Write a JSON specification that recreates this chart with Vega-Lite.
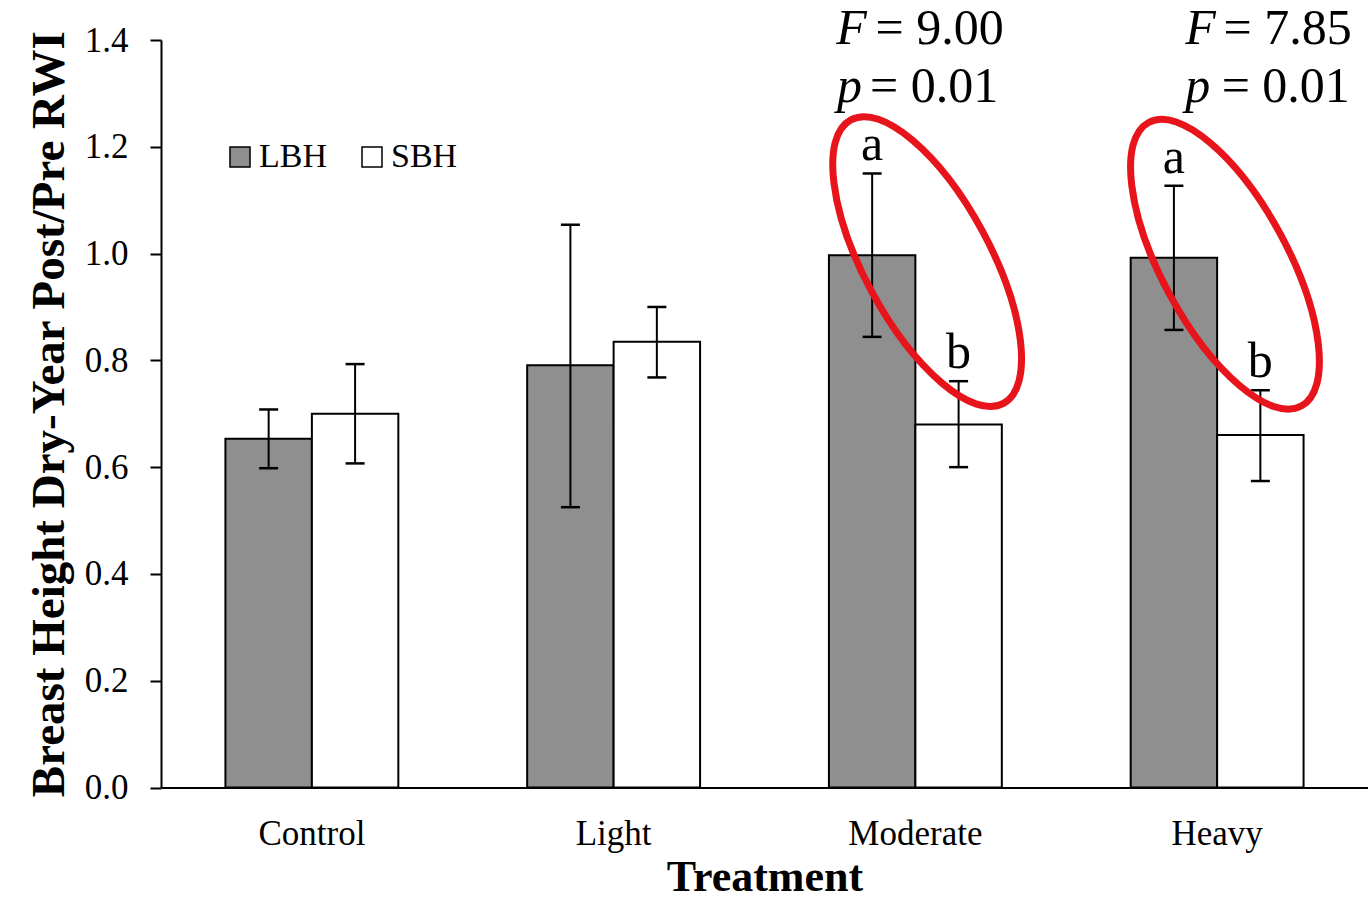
{
  "$schema": "https://vega.github.io/schema/vega-lite/v6.json",
  "width": 1207,
  "height": 747.5,
  "autosize": "none",
  "padding": {"left": 161, "top": 40, "right": 0, "bottom": 114.5},
  "background": "white",
  "config": {
    "view": {"stroke": null},
    "font": "Liberation Serif",
    "text": {"font": "Liberation Serif", "color": "black"},
    "axisY": {
      "tickCount": 7,
      "format": ".1f",
      "grid": false,
      "tickSize": 11,
      "tickWidth": 2,
      "tickColor": "black",
      "domainWidth": 2,
      "domainColor": "black",
      "labelFont": "Liberation Serif",
      "labelFontSize": 35,
      "labelColor": "black",
      "labelPadding": 22,
      "titleFont": "Liberation Serif",
      "titleFontSize": 47,
      "titleFontWeight": "bold",
      "titleColor": "black",
      "titlePadding": 11
    }
  },
  "datasets": {
    "bars": [
      {"Treatment": "Control", "Type": "LBH", "mean": 0.653, "lo": 0.598, "hi": 0.708, "letter": ""},
      {"Treatment": "Control", "Type": "SBH", "mean": 0.700, "lo": 0.607, "hi": 0.793, "letter": ""},
      {"Treatment": "Light", "Type": "LBH", "mean": 0.791, "lo": 0.525, "hi": 1.054, "letter": ""},
      {"Treatment": "Light", "Type": "SBH", "mean": 0.835, "lo": 0.768, "hi": 0.900, "letter": ""},
      {"Treatment": "Moderate", "Type": "LBH", "mean": 0.997, "lo": 0.844, "hi": 1.150, "letter": "a"},
      {"Treatment": "Moderate", "Type": "SBH", "mean": 0.680, "lo": 0.600, "hi": 0.761, "letter": "b"},
      {"Treatment": "Heavy", "Type": "LBH", "mean": 0.992, "lo": 0.857, "hi": 1.127, "letter": "a"},
      {"Treatment": "Heavy", "Type": "SBH", "mean": 0.660, "lo": 0.574, "hi": 0.744, "letter": "b"}
    ],
    "annotItalic": [
      {"px": 2.238, "py": 1.392, "txt": "F"},
      {"px": 2.240, "py": 1.284, "txt": "p"},
      {"px": 3.394, "py": 1.392, "txt": "F"},
      {"px": 3.394, "py": 1.284, "txt": "p"}
    ],
    "annotRoman": [
      {"px": 2.368, "py": 1.392, "txt": "= 9.00"},
      {"px": 2.350, "py": 1.284, "txt": "= 0.01"},
      {"px": 3.521, "py": 1.392, "txt": "= 7.85"},
      {"px": 3.515, "py": 1.284, "txt": "= 0.01"}
    ],
    "rings": [
      {"px": 2.539, "py": 0.985},
      {"px": 3.526, "py": 0.980}
    ]
  },
  "layer": [
    {
      "data": {"name": "bars"},
      "encoding": {
        "x": {
          "field": "Treatment",
          "type": "nominal",
          "sort": ["Control", "Light", "Moderate", "Heavy"],
          "scale": {"paddingInner": 0.427, "paddingOuter": 0.2135},
          "title": "Treatment",
          "axis": {
            "ticks": false,
            "tickSize": 0,
            "domainWidth": 2,
            "domainColor": "black",
            "labelAngle": 0,
            "labelFont": "Liberation Serif",
            "labelFontSize": 35,
            "labelColor": "black",
            "labelPadding": 29,
            "titleFont": "Liberation Serif",
            "titleFontSize": 44,
            "titleFontWeight": "bold",
            "titleColor": "black",
            "titlePadding": 4
          }
        },
        "xOffset": {
          "field": "Type",
          "type": "nominal",
          "sort": ["LBH", "SBH"],
          "scale": {"paddingInner": 0, "paddingOuter": 0}
        }
      },
      "layer": [
        {
          "mark": {"type": "bar", "stroke": "black", "strokeWidth": 2},
          "encoding": {
            "y": {
              "field": "mean",
              "type": "quantitative",
              "scale": {"domain": [0, 1.4], "nice": false},
              "title": "Breast Height Dry-Year Post/Pre RWI"
            },
            "color": {
              "field": "Type",
              "type": "nominal",
              "scale": {"domain": ["LBH", "SBH"], "range": ["#8f8f8f", "#ffffff"]},
              "legend": {
                "orient": "none",
                "legendX": 62,
                "legendY": 100,
                "direction": "horizontal",
                "title": null,
                "padding": 0,
                "symbolType": "square",
                "symbolSize": 400,
                "symbolStrokeColor": "black",
                "symbolStrokeWidth": 1.5,
                "symbolOpacity": 1,
                "labelFont": "Liberation Serif",
                "labelFontSize": 34,
                "labelColor": "black",
                "labelOffset": 2,
                "columnPadding": 28
              }
            }
          }
        },
        {
          "mark": {"type": "rule", "stroke": "black", "strokeWidth": 2},
          "encoding": {
            "y": {"field": "lo", "type": "quantitative", "title": "Breast Height Dry-Year Post/Pre RWI"},
            "y2": {"field": "hi"}
          }
        },
        {
          "mark": {"type": "tick", "color": "black", "size": 19, "thickness": 2.5, "opacity": 1},
          "encoding": {
            "y": {"field": "lo", "type": "quantitative", "title": "Breast Height Dry-Year Post/Pre RWI"}
          }
        },
        {
          "mark": {"type": "tick", "color": "black", "size": 19, "thickness": 2.5, "opacity": 1},
          "encoding": {
            "y": {"field": "hi", "type": "quantitative", "title": "Breast Height Dry-Year Post/Pre RWI"}
          }
        },
        {
          "mark": {"type": "text", "font": "Liberation Serif", "fontSize": 50, "baseline": "alphabetic", "align": "center", "dy": -13, "color": "black"},
          "encoding": {
            "y": {"field": "hi", "type": "quantitative", "title": "Breast Height Dry-Year Post/Pre RWI"},
            "text": {"field": "letter"}
          }
        }
      ]
    },
    {
      "data": {"name": "rings"},
      "mark": {
        "type": "point",
        "shape": "M -0.449 -0.834 A 0.947 0.371 61.7 1 1 0.449 0.834 A 0.947 0.371 61.7 1 1 -0.449 -0.834 Z",
        "size": 115600,
        "filled": false,
        "stroke": "#e8141b",
        "strokeWidth": 7,
        "opacity": 1
      },
      "encoding": {
        "x": {"field": "px", "type": "quantitative", "scale": {"domain": [0, 4], "nice": false, "zero": false}, "axis": null},
        "y": {"field": "py", "type": "quantitative", "title": "Breast Height Dry-Year Post/Pre RWI"}
      }
    },
    {
      "data": {"name": "annotItalic"},
      "mark": {"type": "text", "font": "Liberation Serif", "fontStyle": "italic", "fontSize": 50, "align": "left", "baseline": "alphabetic", "color": "black"},
      "encoding": {
        "x": {"field": "px", "type": "quantitative", "scale": {"domain": [0, 4], "nice": false, "zero": false}, "axis": null},
        "y": {"field": "py", "type": "quantitative", "title": "Breast Height Dry-Year Post/Pre RWI"},
        "text": {"field": "txt"}
      }
    },
    {
      "data": {"name": "annotRoman"},
      "mark": {"type": "text", "font": "Liberation Serif", "fontSize": 50, "align": "left", "baseline": "alphabetic", "color": "black"},
      "encoding": {
        "x": {"field": "px", "type": "quantitative", "scale": {"domain": [0, 4], "nice": false, "zero": false}, "axis": null},
        "y": {"field": "py", "type": "quantitative", "title": "Breast Height Dry-Year Post/Pre RWI"},
        "text": {"field": "txt"}
      }
    }
  ],
  "resolve": {"scale": {"x": "independent"}}
}
